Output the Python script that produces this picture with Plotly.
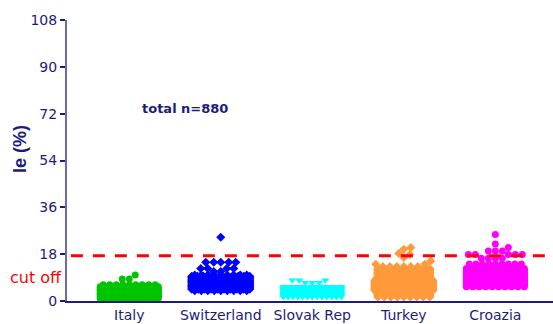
import math
import plotly.graph_objects as go

# Ie (%) values per country, written as distinct level -> number of subjects
countries = ["Italy", "Switzerland", "Slovak Rep", "Turkey", "Croazia"]

italy_ie = [1, 1.5, 2, 2.5, 3, 3.5, 4, 4.5, 5, 5.5, 6.2, 8.5, 10]
italy_n = [16, 17, 17, 17, 17, 17, 17, 17, 17, 16, 9, 2, 1]

switz_ie = [4, 4.5, 5, 5.5, 6, 6.5, 7, 7.5, 8, 8.5, 9, 9.5, 10, 11.3, 12.5, 14.9, 24.5]
switz_n = [9, 10, 11, 11, 11, 11, 11, 11, 11, 11, 11, 11, 9, 2, 4, 5, 1]

slovak_ie = [1.5, 2, 2.5, 3, 3.5, 4, 4.5, 5, 5.5, 7, 8]
slovak_n = [13, 13, 13, 13, 12, 12, 13, 13, 12, 3, 3]

turkey_ie = [1.5, 2, 2.5, 3, 3.5, 4, 4.5, 5, 5.5, 6, 6.5, 7, 7.5, 8, 8.5, 9, 9.5, 10, 10.5,
             11, 11.5, 12, 12.5, 13.2, 14.1, 15.4, 16.7, 17.9, 18.3, 19.9, 20.5]
turkey_n = [9, 9, 9, 9, 9, 10, 10, 10, 10, 10, 10, 10, 10, 10, 9, 9, 9, 9, 9,
            9, 9, 9, 9, 6, 2, 1, 1, 1, 1, 1, 1]

croazia_ie = [5.5, 6, 6.5, 7, 7.5, 8, 8.5, 9, 9.5, 10, 10.5, 11, 11.5, 12, 12.5,
              14.2, 16.4, 17.9, 19.2, 20.6, 21.9, 25.6]
croazia_n = [10, 12, 12, 12, 12, 12, 12, 12, 12, 12, 12, 12, 12, 12, 10,
             9, 4, 5, 3, 1, 1, 1]

cutoff = 17.4
total_n = sum(italy_n) + sum(switz_n) + sum(slovak_n) + sum(turkey_n) + sum(croazia_n)

groups = [
    (italy_ie, italy_n, "#00c400", "circle"),
    (switz_ie, switz_n, "#0000ff", "diamond"),
    (slovak_ie, slovak_n, "#00ffff", "triangle-down"),
    (turkey_ie, turkey_n, "#ff9a3c", "diamond"),
    (croazia_ie, croazia_n, "#ff00ff", "circle"),
]

NAVY = "#1c1c7c"
X_RANGE = [-0.68, 4.63]
Y_RANGE = [0, 108]
PLOT_W, PLOT_H = 486, 281
PX_X = PLOT_W / (X_RANGE[1] - X_RANGE[0])   # pixels per category unit
PX_Y = PLOT_H / (Y_RANGE[1] - Y_RANGE[0])   # pixels per Ie unit
DOT = 6.5          # spacing between neighbouring dots, px
HALF_W = 29        # half width of a column of dots, px


def dot_offsets(levels, counts):
    """Dense levels are laid out as full rows; sparse ones are swarmed around the centre."""
    out = []
    placed = []
    turn = 0
    for lv, k in zip(levels, counts):
        yp = lv * PX_Y
        if k >= 9:
            step = min(DOT, 2 * HALF_W / (k - 1))
            for j in range(k):
                out.append(((j - (k - 1) / 2) * step, lv))
            continue
        for _ in range(k):
            sign = 1 if turn % 2 == 0 else -1
            turn += 1
            cands = [0.0]
            for d in range(1, HALF_W + 1):
                cands += [sign * d, -sign * d]
            best, best_gap = None, -1.0
            for c in cands:
                gap = min((math.hypot(c - px, yp - py) for px, py in placed), default=1e9)
                if gap >= DOT:
                    best = c
                    break
                if gap > best_gap:
                    best, best_gap = c, gap
            placed.append((best, yp))
            out.append((best, lv))
    return out


fig = go.Figure()
for gi, (levels, counts, color, symbol) in enumerate(groups):
    pts = dot_offsets(levels, counts)
    fig.add_trace(go.Scatter(
        x=[gi + dx / PX_X for dx, _ in pts], y=[v for _, v in pts], mode="markers",
        marker=dict(color=color, symbol=symbol, size=7, line=dict(width=0)),
        showlegend=False, hoverinfo="skip",
    ))

fig.add_shape(type="line", xref="paper", yref="y", x0=0.008, x1=1, y0=cutoff, y1=cutoff,
              line=dict(color="#ff0000", width=3, dash="12px,10px"))

fig.add_annotation(text="cut off", xref="paper", yref="y", x=-0.006, y=9.2,
                   xanchor="right", yanchor="middle", showarrow=False,
                   font=dict(family="DejaVu Sans", size=16, color="#ff0000"))
fig.add_annotation(text=f"<b>total n={total_n}</b>", xref="x", yref="y", x=0.61, y=73.8,
                   xanchor="center", yanchor="middle", showarrow=False,
                   font=dict(family="DejaVu Sans", size=13, color=NAVY))
fig.add_annotation(text="<b>Ie (%)</b>", xref="paper", yref="paper", x=-0.097, y=0.54,
                   textangle=-90, xanchor="center", yanchor="middle", showarrow=False,
                   font=dict(family="Liberation Sans", size=18, color=NAVY))

fig.update_layout(
    width=553, height=324,
    margin=dict(l=67, r=0, t=20, b=23),
    paper_bgcolor="white", plot_bgcolor="white",
    xaxis=dict(
        range=X_RANGE, tickvals=list(range(len(countries))), ticktext=countries,
        showgrid=False, zeroline=False, showline=True, linecolor=NAVY, linewidth=2,
        ticks="", tickfont=dict(family="DejaVu Sans", size=14, color=NAVY),
    ),
    yaxis=dict(
        range=Y_RANGE, tickvals=[0, 18, 36, 54, 72, 90, 108],
        showgrid=False, zeroline=False, showline=True, linecolor="#6a6ab4", linewidth=2,
        ticks="outside", ticklen=5, tickwidth=1.5, tickcolor=NAVY,
        tickfont=dict(family="DejaVu Sans", size=14, color=NAVY),
    ),
)

fig.write_html("out.html")
